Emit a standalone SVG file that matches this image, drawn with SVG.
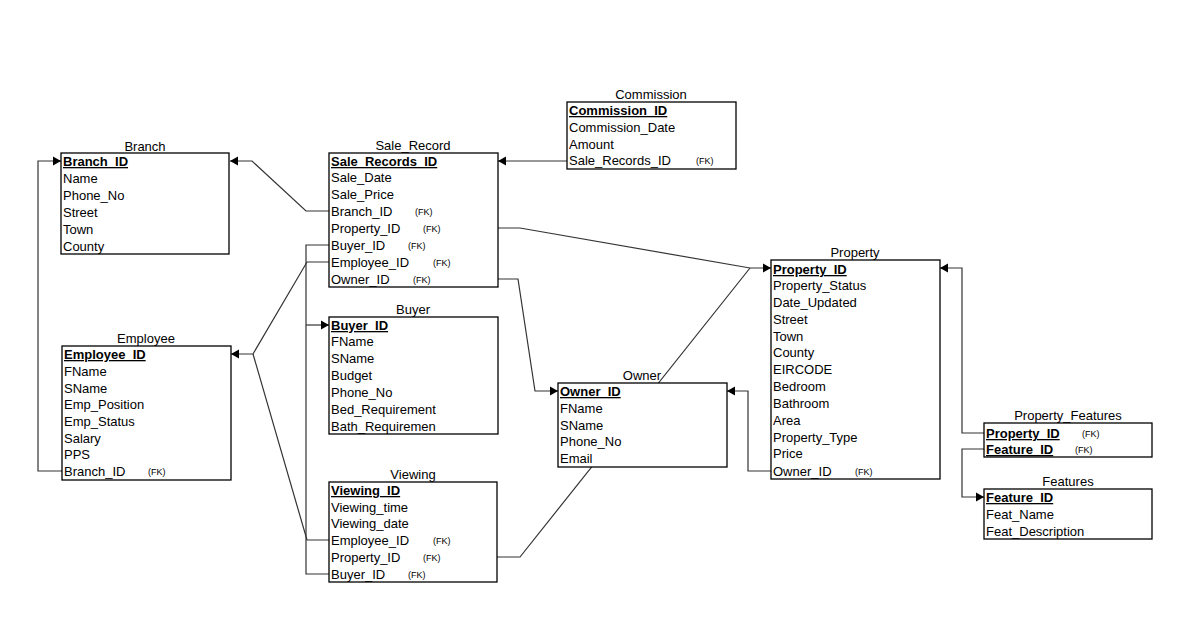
<svg xmlns="http://www.w3.org/2000/svg" width="1198" height="642" viewBox="0 0 1198 642">
<style>
text{font-family:"Liberation Sans",Arial,sans-serif;font-size:13px;fill:#000}
.t{text-anchor:middle}
.pk{font-weight:bold;text-decoration:underline}
.fk{font-size:9px}
.box{fill:#fff;stroke:#000;stroke-width:1.3}
.c{fill:none;stroke:#333;stroke-width:1.2}
</style>
<defs>
<marker id="a" markerUnits="userSpaceOnUse" markerWidth="9" markerHeight="10" refX="8" refY="5" orient="auto">
<path d="M0,0.5 L8,5 L0,9.5 z" fill="#000"/>
</marker>
</defs>
<rect width="1198" height="642" fill="#fff"/>
<g id="connectors">
<path class="c" d="M329,211 L306,211 L252,161 L230,161" marker-end="url(#a)"/>
<path class="c" d="M62,471 L38,471 L38,161 L61,161" marker-end="url(#a)"/>
<path class="c" d="M567,161 L498,161" marker-end="url(#a)"/>
<path class="c" d="M329,262 L307,262 L253,354 L231,354" marker-end="url(#a)"/>
<path class="c" d="M329,540 L307,540 L253,354"/>
<path class="c" d="M329,245 L306,245 L306,574 L329,574"/>
<path class="c" d="M306,325 L329,325" marker-end="url(#a)"/>
<path class="c" d="M498,228 L520,228 L750,268 L771,268" marker-end="url(#a)"/>
<path class="c" d="M497,557 L520,557 L750,268"/>
<path class="c" d="M498,279 L518,279 L535,391 L558,391" marker-end="url(#a)"/>
<path class="c" d="M771,471 L748,471 L748,391 L727,391" marker-end="url(#a)"/>
<path class="c" d="M984,433 L962,433 L962,268 L940,268" marker-end="url(#a)"/>
<path class="c" d="M984,449 L962,449 L962,497 L984,497" marker-end="url(#a)"/>
</g>
<g id="branch">
<text class="t" x="145" y="151">Branch</text>
<rect class="box" x="61" y="153" width="168" height="101"/>
<text class="pk" x="63" y="166">Branch_ID</text>
<text x="63" y="183">Name</text>
<text x="63" y="200">Phone_No</text>
<text x="63" y="217">Street</text>
<text x="63" y="234">Town</text>
<text x="63" y="251">County</text>
</g>
<g id="sale_record">
<text class="t" x="413" y="150">Sale_Record</text>
<rect class="box" x="329" y="153" width="169" height="134"/>
<text class="pk" x="331" y="166">Sale_Records_ID</text>
<text x="331" y="182">Sale_Date</text>
<text x="331" y="199">Sale_Price</text>
<text x="331" y="216">Branch_ID</text><text class="fk" x="415" y="215">(FK)</text>
<text x="331" y="233">Property_ID</text><text class="fk" x="423" y="232">(FK)</text>
<text x="331" y="250">Buyer_ID</text><text class="fk" x="408" y="249">(FK)</text>
<text x="331" y="267">Employee_ID</text><text class="fk" x="433" y="266">(FK)</text>
<text x="331" y="284">Owner_ID</text><text class="fk" x="413" y="283">(FK)</text>
</g>
<g id="commission">
<text class="t" x="651" y="99">Commission</text>
<rect class="box" x="567" y="102" width="169" height="67"/>
<text class="pk" x="569" y="115">Commission_ID</text>
<text x="569" y="132">Commission_Date</text>
<text x="569" y="149">Amount</text>
<text x="569" y="165">Sale_Records_ID</text><text class="fk" x="696" y="164">(FK)</text>
</g>
<g id="employee">
<text class="t" x="146" y="343">Employee</text>
<rect class="box" x="62" y="346" width="169" height="134"/>
<text class="pk" x="64" y="359">Employee_ID</text>
<text x="64" y="376">FName</text>
<text x="64" y="393">SName</text>
<text x="64" y="409">Emp_Position</text>
<text x="64" y="426">Emp_Status</text>
<text x="64" y="443">Salary</text>
<text x="64" y="459">PPS</text>
<text x="64" y="476">Branch_ID</text><text class="fk" x="148" y="475">(FK)</text>
</g>
<g id="buyer">
<text class="t" x="413" y="314">Buyer</text>
<rect class="box" x="329" y="317" width="169" height="117"/>
<text class="pk" x="331" y="330">Buyer_ID</text>
<text x="331" y="346">FName</text>
<text x="331" y="363">SName</text>
<text x="331" y="380">Budget</text>
<text x="331" y="397">Phone_No</text>
<text x="331" y="414">Bed_Requirement</text>
<text x="331" y="431">Bath_Requiremen</text>
</g>
<g id="viewing">
<text class="t" x="413" y="479">Viewing</text>
<rect class="box" x="329" y="482" width="168" height="100"/>
<text class="pk" x="331" y="495">Viewing_ID</text>
<text x="331" y="512">Viewing_time</text>
<text x="331" y="528">Viewing_date</text>
<text x="331" y="545">Employee_ID</text><text class="fk" x="433" y="544">(FK)</text>
<text x="331" y="562">Property_ID</text><text class="fk" x="423" y="561">(FK)</text>
<text x="331" y="579">Buyer_ID</text><text class="fk" x="408" y="578">(FK)</text>
</g>
<g id="owner">
<text class="t" x="642" y="380">Owner</text>
<rect class="box" x="558" y="383" width="169" height="84"/>
<text class="pk" x="560" y="396">Owner_ID</text>
<text x="560" y="413">FName</text>
<text x="560" y="430">SName</text>
<text x="560" y="446">Phone_No</text>
<text x="560" y="463">Email</text>
</g>
<g id="property">
<text class="t" x="855" y="257">Property</text>
<rect class="box" x="771" y="260" width="169" height="219"/>
<text class="pk" x="773" y="274">Property_ID</text>
<text x="773" y="290">Property_Status</text>
<text x="773" y="307">Date_Updated</text>
<text x="773" y="324">Street</text>
<text x="773" y="341">Town</text>
<text x="773" y="357">County</text>
<text x="773" y="374">EIRCODE</text>
<text x="773" y="391">Bedroom</text>
<text x="773" y="408">Bathroom</text>
<text x="773" y="425">Area</text>
<text x="773" y="442">Property_Type</text>
<text x="773" y="458">Price</text>
<text x="773" y="476">Owner_ID</text><text class="fk" x="855" y="475">(FK)</text>
</g>
<g id="property_features">
<text class="t" x="1068" y="420">Property_Features</text>
<rect class="box" x="984" y="423" width="168" height="34"/>
<text class="pk" x="986" y="438">Property_ID</text><text class="fk" x="1082" y="437">(FK)</text>
<text class="pk" x="986" y="454">Feature_ID</text><text class="fk" x="1075" y="453">(FK)</text>
</g>
<g id="features">
<text class="t" x="1068" y="486">Features</text>
<rect class="box" x="984" y="489" width="168" height="50"/>
<text class="pk" x="986" y="502">Feature_ID</text>
<text x="986" y="519">Feat_Name</text>
<text x="986" y="536">Feat_Description</text>
</g>
</svg>
